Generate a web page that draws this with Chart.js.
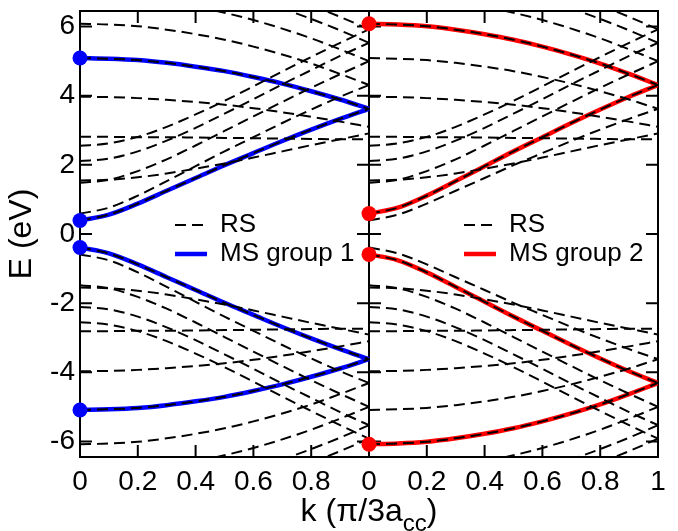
<!DOCTYPE html>
<html>
<head>
<meta charset="utf-8">
<script src="https://cdn.jsdelivr.net/npm/chart.js@4.4.1/dist/chart.umd.min.js"></script>
<style>
  html, body { margin: 0; padding: 0; background: #fff; }
</style>
</head>
<body>
<canvas id="bands" width="678" height="531"></canvas>
<script>
// k grid (units of pi/3a_cc) shared by every band
const kPoints = [0, 0.1, 0.2, 0.3, 0.4, 0.5, 0.6, 0.7, 0.8, 0.9, 1];

// MS group 1 bands (E in eV)
const ms1Top = [5.09, 5.07, 5.03, 4.95, 4.84, 4.71, 4.54, 4.35, 4.13, 3.89, 3.62];
const ms1Gap = [0.39, 0.56, 0.88, 1.25, 1.62, 1.99, 2.34, 2.69, 3.02, 3.33, 3.62];
const ms1GapNeg = [-0.39, -0.56, -0.88, -1.25, -1.62, -1.99, -2.34, -2.69, -3.02, -3.33, -3.62];
const ms1TopNeg = [-5.09, -5.07, -5.03, -4.95, -4.84, -4.71, -4.54, -4.35, -4.13, -3.89, -3.62];

// MS group 2 bands
const ms2Top = [6.08, 6.06, 6.01, 5.91, 5.78, 5.62, 5.42, 5.19, 4.93, 4.63, 4.31];
const ms2Gap = [0.59, 0.76, 1.11, 1.53, 1.96, 2.39, 2.80, 3.21, 3.60, 3.97, 4.31];
const ms2GapNeg = [-0.59, -0.76, -1.11, -1.53, -1.96, -2.39, -2.80, -3.21, -3.60, -3.97, -4.31];
const ms2TopNeg = [-6.08, -6.06, -6.01, -5.91, -5.78, -5.62, -5.42, -5.19, -4.93, -4.63, -4.31];

// remaining RS bands, conduction side
const rsUp = [
  [3.97, 3.96, 3.93, 3.88, 3.82, 3.74, 3.64, 3.52, 3.39, 3.25, 3.10],
  [2.81, 2.81, 2.80, 2.80, 2.79, 2.78, 2.77, 2.76, 2.75, 2.74, 2.74],
  [2.55, 2.62, 2.81, 3.10, 3.46, 3.85, 4.27, 4.70, 5.12, 5.53, 5.92],
  [2.11, 2.18, 2.39, 2.70, 3.07, 3.48, 3.90, 4.33, 4.74, 5.15, 5.53],
  [1.55, 1.57, 1.64, 1.75, 1.89, 2.04, 2.21, 2.39, 2.57, 2.74, 2.91],
  [1.48, 1.57, 1.82, 2.16, 2.56, 2.98, 3.40, 3.82, 4.23, 4.62, 5.00],
  [6.90, 6.88, 6.82, 6.72, 6.58, 6.40, 6.19, 5.94, 5.66, 5.34, 5.00],
  [7.55, 7.53, 7.46, 7.36, 7.21, 7.02, 6.79, 6.52, 6.22, 5.89, 5.53],
  [7.95, 7.93, 7.86, 7.75, 7.60, 7.41, 7.18, 6.92, 6.61, 6.28, 5.92]
];
// remaining RS bands, valence side
const rsDown = [
  [-3.97, -3.96, -3.93, -3.88, -3.82, -3.74, -3.64, -3.52, -3.39, -3.25, -3.10],
  [-2.81, -2.81, -2.80, -2.80, -2.79, -2.78, -2.77, -2.76, -2.75, -2.74, -2.74],
  [-2.55, -2.62, -2.81, -3.10, -3.46, -3.85, -4.27, -4.70, -5.12, -5.53, -5.92],
  [-2.11, -2.18, -2.39, -2.70, -3.07, -3.48, -3.90, -4.33, -4.74, -5.15, -5.53],
  [-1.55, -1.57, -1.64, -1.75, -1.89, -2.04, -2.21, -2.39, -2.57, -2.74, -2.91],
  [-1.48, -1.57, -1.82, -2.16, -2.56, -2.98, -3.40, -3.82, -4.23, -4.62, -5.00],
  [-6.90, -6.88, -6.82, -6.72, -6.58, -6.40, -6.19, -5.94, -5.66, -5.34, -5.00],
  [-7.55, -7.53, -7.46, -7.36, -7.21, -7.02, -6.79, -6.52, -6.22, -5.89, -5.53],
  [-7.95, -7.93, -7.86, -7.75, -7.60, -7.41, -7.18, -6.92, -6.61, -6.28, -5.92]
];

const ms1Bands = [ms1Top, ms1Gap, ms1GapNeg, ms1TopNeg];
const ms2Bands = [ms2Top, ms2Gap, ms2GapNeg, ms2TopNeg];
const rsBands = [ms2Top, ms1Top, ms1Gap, ms2Gap, ms1GapNeg, ms2GapNeg, ms1TopNeg, ms2TopNeg]
  .concat(rsUp, rsDown);

// ticks; right panel sits at x = 1..2
const xTicks = [0, 0.2, 0.4, 0.6, 0.8, 1, 1.2, 1.4, 1.6, 1.8, 2];
const xTickLabels = ['0', '0.2', '0.4', '0.6', '0.8', '0', '0.2', '0.4', '0.6', '0.8', '1'];
const yTicks = [-6, -4, -2, 0, 2, 4, 6];

const FONT = 'Liberation Sans, Arial, Helvetica, sans-serif';
const BLUE = '#0000ff';
const RED = '#ff0000';
const TICK = 12;

Chart.defaults.font.family = FONT;
Chart.defaults.color = '#000';

function toPoints(band, shift) {
    return band.map((e, i) => ({ x: kPoints[i] + shift, y: e }));
}

let datasets = [];

// dashed RS bands go on both panels
[0, 1].forEach(shift => {
    rsBands.forEach(band => {
        datasets.push({
            data: toPoints(band, shift),
            borderColor: '#000',
            borderWidth: 2,
            borderDash: [11, 6],
            pointRadius: 0,
            cubicInterpolationMode: 'monotone',
            order: 0
        });
    });
});

// solid MS bands, drawn under the dashes
ms1Bands.forEach(band => {
    datasets.push({
        data: toPoints(band, 0),
        borderColor: BLUE,
        borderWidth: 4.5,
        pointRadius: 0,
        cubicInterpolationMode: 'monotone',
        order: 1
    });
});
ms2Bands.forEach(band => {
    datasets.push({
        data: toPoints(band, 1),
        borderColor: RED,
        borderWidth: 4.5,
        pointRadius: 0,
        cubicInterpolationMode: 'monotone',
        order: 1
    });
});

// dots at the zone centre
datasets.push({
    data: ms1Bands.map(b => ({ x: 0, y: b[0] })),
    showLine: false,
    pointRadius: 7.5,
    pointBackgroundColor: BLUE,
    pointBorderWidth: 0,
    clip: false,
    order: -1
});
datasets.push({
    data: ms2Bands.map(b => ({ x: 1, y: b[0] })),
    showLine: false,
    pointRadius: 7.5,
    pointBackgroundColor: RED,
    pointBorderWidth: 0,
    clip: false,
    order: -1
});

// box, centre divider and inward tick marks
const framePlugin = {
    id: 'frame',
    beforeDatasetsDraw(chart) {
        const { ctx, chartArea: a, scales: { x, y } } = chart;
        const xm = x.getPixelForValue(1);
        ctx.save();
        ctx.strokeStyle = '#000';
        ctx.lineWidth = 2;
        ctx.strokeRect(a.left, a.top, a.right - a.left, a.bottom - a.top);
        ctx.beginPath();
        ctx.moveTo(xm, a.top);
        ctx.lineTo(xm, a.bottom);
        xTicks.forEach(v => {
            const px = x.getPixelForValue(v);
            ctx.moveTo(px, a.bottom);
            ctx.lineTo(px, a.bottom - TICK);
            ctx.moveTo(px, a.top);
            ctx.lineTo(px, a.top + TICK);
        });
        yTicks.forEach(v => {
            const py = y.getPixelForValue(v);
            ctx.moveTo(a.left, py);
            ctx.lineTo(a.left + TICK, py);
            ctx.moveTo(a.right, py);
            ctx.lineTo(a.right - TICK, py);
            ctx.moveTo(xm - TICK, py);
            ctx.lineTo(xm + TICK, py);
        });
        ctx.stroke();
        ctx.restore();
    }
};

// in-panel legends and the x axis title with its subscript
const labelPlugin = {
    id: 'labels',
    afterDraw(chart) {
        const { ctx, chartArea: a, scales: { x } } = chart;
        const panels = [
            { left: a.left, color: BLUE, name: 'MS group 1' },
            { left: x.getPixelForValue(1), color: RED, name: 'MS group 2' }
        ];
        ctx.save();
        ctx.font = '26px ' + FONT;
        ctx.textBaseline = 'middle';
        ctx.fillStyle = '#000';
        panels.forEach(p => {
            const y1 = a.top + 214;
            const y2 = a.top + 243;
            ctx.beginPath();
            ctx.setLineDash([11, 6]);
            ctx.lineWidth = 2;
            ctx.strokeStyle = '#000';
            ctx.moveTo(p.left + 95, y1);
            ctx.lineTo(p.left + 127, y1);
            ctx.stroke();
            ctx.beginPath();
            ctx.setLineDash([]);
            ctx.lineWidth = 4.5;
            ctx.strokeStyle = p.color;
            ctx.moveTo(p.left + 95, y2);
            ctx.lineTo(p.left + 127, y2);
            ctx.stroke();
            ctx.fillText('RS', p.left + 140, y1);
            ctx.fillText(p.name, p.left + 140, y2);
        });

        // k (π/3a_cc)
        const main1 = 'k (π/3a';
        const sub = 'cc';
        const main2 = ')';
        ctx.textBaseline = 'alphabetic';
        ctx.font = '32px ' + FONT;
        const w1 = ctx.measureText(main1).width;
        const w3 = ctx.measureText(main2).width;
        ctx.font = '24px ' + FONT;
        const w2 = ctx.measureText(sub).width;
        let tx = (a.left + a.right) / 2 - (w1 + w2 + w3) / 2;
        const base = 521;
        ctx.font = '32px ' + FONT;
        ctx.fillText(main1, tx, base);
        tx += w1;
        ctx.font = '24px ' + FONT;
        ctx.fillText(sub, tx, base + 10);
        tx += w2;
        ctx.font = '32px ' + FONT;
        ctx.fillText(main2, tx, base);
        ctx.restore();
    }
};

new Chart(document.getElementById('bands'), {
    type: 'line',
    data: { datasets: datasets },
    options: {
        responsive: false,
        animation: false,
        devicePixelRatio: 1,
        layout: { padding: { left: 0, right: 20, top: 11, bottom: 0 } },
        plugins: {
            legend: { display: false },
            tooltip: { enabled: false }
        },
        scales: {
            x: {
                type: 'linear',
                min: 0,
                max: 2,
                grid: { display: false, drawTicks: false },
                border: { display: false },
                afterBuildTicks: s => { s.ticks = xTicks.map(v => ({ value: v })); },
                afterFit: s => {
                    s.height = 74;
                    s.paddingLeft = 0;
                    s.paddingRight = 0;
                },
                ticks: {
                    autoSkip: false,
                    maxRotation: 0,
                    padding: 8,
                    font: { size: 28 },
                    callback: (v, i) => xTickLabels[i]
                }
            },
            y: {
                min: -6.45,
                max: 6.45,
                grid: { display: false, drawTicks: false },
                border: { display: false },
                afterBuildTicks: s => { s.ticks = yTicks.map(v => ({ value: v })); },
                afterFit: s => {
                    s.width = 80;
                    s.paddingTop = 0;
                    s.paddingBottom = 0;
                },
                ticks: {
                    padding: 5,
                    font: { size: 28 }
                },
                title: {
                    display: true,
                    text: 'E (eV)',
                    font: { size: 32 },
                    padding: { top: 3, bottom: 0 }
                }
            }
        }
    },
    plugins: [framePlugin, labelPlugin]
});
</script>
</body>
</html>
